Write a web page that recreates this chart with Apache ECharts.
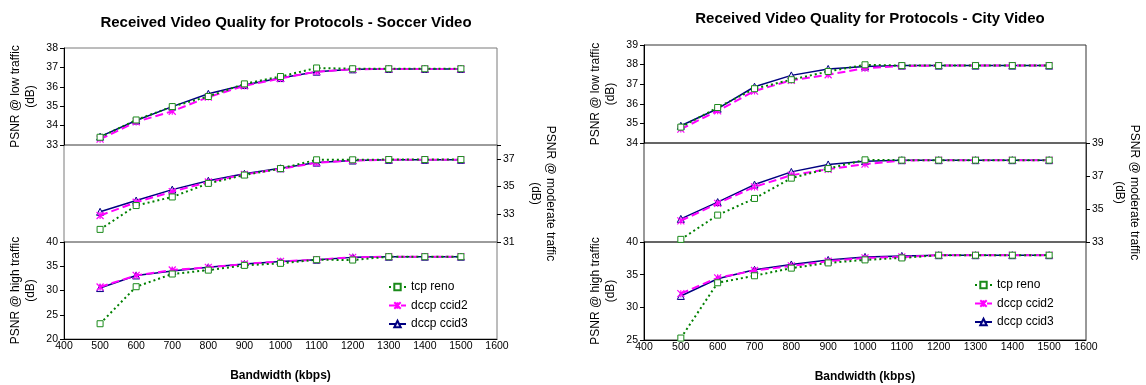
<!DOCTYPE html>
<html>
<head>
<meta charset="utf-8">
<script src="https://cdn.jsdelivr.net/npm/echarts@6/dist/echarts.min.js"></script>
<style>
  html, body { margin: 0; padding: 0; background: #fff; }
  #chart { width: 1146px; height: 385px; }
</style>
</head>
<body>
<div id="chart"></div>
<script>
// ---------- DATA ----------
const bandwidth = [500, 600, 700, 800, 900, 1000, 1100, 1200, 1300, 1400, 1500];
const seriesNames = ['tcp reno', 'dccp ccid2', 'dccp ccid3'];
const panelTitles = ['Received Video Quality for Protocols - Soccer Video', 'Received Video Quality for Protocols - City Video'];
const xAxisName = 'Bandwidth (kbps)';
const lowName = 'PSNR @ low traffic\n(dB)';
const modName = 'PSNR @ moderate traffic\n(dB)';
const highName = 'PSNR @ high traffic\n(dB)';

// Soccer video
const soccerLowTcp   = [33.40, 34.29, 34.98, 35.50, 36.15, 36.53, 36.97, 36.93, 36.93, 36.93, 36.93];
const soccerLowCcid2 = [33.30, 34.19, 34.74, 35.47, 36.05, 36.43, 36.78, 36.90, 36.92, 36.92, 36.92];
const soccerLowCcid3 = [33.43, 34.26, 34.98, 35.64, 36.09, 36.45, 36.78, 36.90, 36.92, 36.92, 36.92];
const soccerModTcp   = [31.91, 33.63, 34.25, 35.23, 35.83, 36.30, 36.93, 36.93, 36.95, 36.95, 36.95];
const soccerModCcid2 = [32.91, 33.87, 34.63, 35.33, 35.87, 36.28, 36.71, 36.88, 36.93, 36.93, 36.93];
const soccerModCcid3 = [33.18, 33.99, 34.78, 35.42, 35.92, 36.32, 36.73, 36.88, 36.93, 36.93, 36.93];
const soccerHighTcp   = [23.15, 30.78, 33.40, 34.20, 35.18, 35.60, 36.35, 36.28, 36.97, 36.97, 36.97];
const soccerHighCcid2 = [30.72, 33.12, 34.22, 34.77, 35.46, 36.00, 36.35, 36.83, 36.97, 36.97, 36.97];
const soccerHighCcid3 = [30.50, 33.10, 34.00, 34.77, 35.46, 36.00, 36.35, 36.83, 36.97, 36.97, 36.97];

// City video
const cityLowTcp   = [34.81, 35.81, 36.77, 37.23, 37.65, 37.99, 37.95, 37.95, 37.95, 37.95, 37.95];
const cityLowCcid2 = [34.71, 35.64, 36.65, 37.20, 37.48, 37.82, 37.93, 37.95, 37.95, 37.95, 37.95];
const cityLowCcid3 = [34.88, 35.75, 36.87, 37.45, 37.78, 37.90, 37.95, 37.95, 37.95, 37.95, 37.95];
const cityModTcp   = [33.16, 34.63, 35.64, 36.87, 37.45, 37.98, 37.96, 37.96, 37.96, 37.96, 37.96];
const cityModCcid2 = [34.28, 35.34, 36.34, 37.05, 37.41, 37.72, 37.94, 37.96, 37.96, 37.96, 37.96];
const cityModCcid3 = [34.40, 35.42, 36.48, 37.25, 37.70, 37.90, 37.96, 37.96, 37.96, 37.96, 37.96];
const cityHighTcp   = [25.30, 33.76, 34.83, 36.00, 36.80, 37.26, 37.56, 37.98, 37.98, 37.98, 37.98];
const cityHighCcid2 = [32.09, 34.52, 35.64, 36.35, 37.06, 37.56, 37.70, 37.98, 37.98, 37.98, 37.98];
const cityHighCcid3 = [31.74, 34.37, 35.74, 36.56, 37.26, 37.72, 37.87, 37.98, 37.98, 37.98, 37.98];

// axis ranges [min, max, interval]
const xRange = [400, 1600, 100];
const soccerLowRange  = [33, 38, 1];
const soccerModRange  = [31, 38, 2];
const soccerHighRange = [20, 40, 5];
const cityLowRange  = [34, 39, 1];
const cityModRange  = [33, 39, 2];
const cityHighRange = [25, 40, 5];

// ---------- LAYOUT / STYLE ----------
const FONT = '"Liberation Sans", Arial, sans-serif';
const panels = [
  { left: 64, width: 433, tops: [48, 145, 242], heights: [97, 97, 97], border: '#7a7a7a',
    titleX: 281, titleY: 10, rightGap: 31, legendLeft: 388, legendTop: 280,
    ranges: [soccerLowRange, soccerModRange, soccerHighRange],
    data: [[soccerLowTcp, soccerLowCcid2, soccerLowCcid3],
           [soccerModTcp, soccerModCcid2, soccerModCcid3],
           [soccerHighTcp, soccerHighCcid2, soccerHighCcid3]] },
  { left: 644, width: 442, tops: [45, 143, 242], heights: [98, 99, 98], border: '#333',
    titleX: 865, titleY: 6, rightGap: 26, legendLeft: 974, legendTop: 278,
    ranges: [cityLowRange, cityModRange, cityHighRange],
    data: [[cityLowTcp, cityLowCcid2, cityLowCcid3],
           [cityModTcp, cityModCcid2, cityModCcid3],
           [cityHighTcp, cityHighCcid2, cityHighCcid3]] }
];

const styles = {
  'tcp reno':   { color: '#008000', line: { color: '#008000', width: 2, type: [2, 3] }, symbol: 'rect', size: 6,
                  item: { color: '#ffffff', borderColor: '#1a8a1a', borderWidth: 1 } },
  'dccp ccid2': { color: '#ff00ff', line: { color: '#ff00ff', width: 2, type: [8, 4] }, symbol: 'path://M0,0L10,10M10,0L0,10M5,0L5,10', size: 7,
                  item: { color: '#ff00ff', borderColor: '#ff00ff', borderWidth: 1.2 } },
  'dccp ccid3': { color: '#000080', line: { color: '#000080', width: 1.5, type: 'solid' }, symbol: 'triangle', size: 7,
                  item: { color: '#e6e0ff', borderColor: '#000080', borderWidth: 1 } }
};

const grids = [], xAxes = [], yAxes = [], series = [], titles = [], legends = [];
const axisTextStyle = { color: '#000', fontSize: 10.5, fontFamily: FONT };
const nameStyle = { color: '#000', fontSize: 12, lineHeight: 15, fontFamily: FONT };
const bandNames = [lowName, modName, highName];

panels.forEach((p, pi) => {
  titles.push({ text: panelTitles[pi], left: p.titleX, top: p.titleY, textAlign: 'center',
    textStyle: { fontSize: 15, fontWeight: 'bold', color: '#000', fontFamily: FONT } });
  legends.push({ orient: 'vertical', left: p.legendLeft, top: p.legendTop, padding: 0,
    itemWidth: 17, itemHeight: 8, itemGap: 4.5, data: seriesNames.slice(),
    textStyle: { fontSize: 12, lineHeight: 14, color: '#000', fontFamily: FONT } });
  for (let b = 0; b < 3; b++) {
    const gi = grids.length;
    grids.push({ left: p.left, width: p.width, top: p.tops[b], height: p.heights[b],
      show: true, borderColor: p.border, borderWidth: 1, backgroundColor: 'transparent', containLabel: false });
    const isBottom = b === 2;
    xAxes.push({ gridIndex: gi, type: 'value', min: xRange[0], max: xRange[1], interval: xRange[2],
      show: isBottom,
      name: isBottom ? xAxisName : '', nameLocation: 'middle', nameGap: 31,
      nameTextStyle: { fontSize: 12, fontWeight: 'bold', color: '#000', fontFamily: FONT },
      axisLine: { show: true, onZero: false, lineStyle: { color: '#000', width: 1 } },
      axisTick: { show: false },
      axisLabel: { show: isBottom, margin: 2, ...axisTextStyle, formatter: v => String(v) },
      splitLine: { show: false } });
    const r = p.ranges[b];
    const isRight = b === 1;
    yAxes.push({ gridIndex: gi, type: 'value', min: r[0], max: r[1], interval: r[2],
      position: isRight ? 'right' : 'left',
      name: bandNames[b], nameLocation: 'middle',
      nameRotate: isRight ? -90 : 90,
      nameGap: isRight ? p.rightGap : 26,
      nameTextStyle: nameStyle,
      axisLine: { show: true, onZero: false, lineStyle: { color: isRight ? p.border : '#000', width: 1 } },
      axisTick: { show: true, inside: false, length: 4, lineStyle: { color: '#000' } },
      axisLabel: { margin: 6, ...axisTextStyle,
        formatter: v => ((v - r[0]) % r[2] === 0 ? String(v) : '') },
      splitLine: { show: false } });
    // draw order: ccid3 first, then ccid2, then tcp on top
    [2, 1, 0].forEach(si => {
      const name = seriesNames[si];
      const st = styles[name];
      const vals = p.data[b][si];
      series.push({ type: 'line', name: name, xAxisIndex: gi, yAxisIndex: gi,
        data: bandwidth.map((x, i) => [x, vals[i]]),
        symbol: st.symbol, symbolSize: st.size, showSymbol: true,
        color: st.color, lineStyle: st.line, itemStyle: st.item,
        animation: false, silent: true, z: 3 + (2 - si) });
    });
  }
});

const chart = echarts.init(document.getElementById('chart'), null, { renderer: 'canvas' });
chart.setOption({
  backgroundColor: '#fff',
  animation: false,
  title: titles,
  legend: legends,
  grid: grids,
  xAxis: xAxes,
  yAxis: yAxes,
  series: series
});
</script>
</body>
</html>
